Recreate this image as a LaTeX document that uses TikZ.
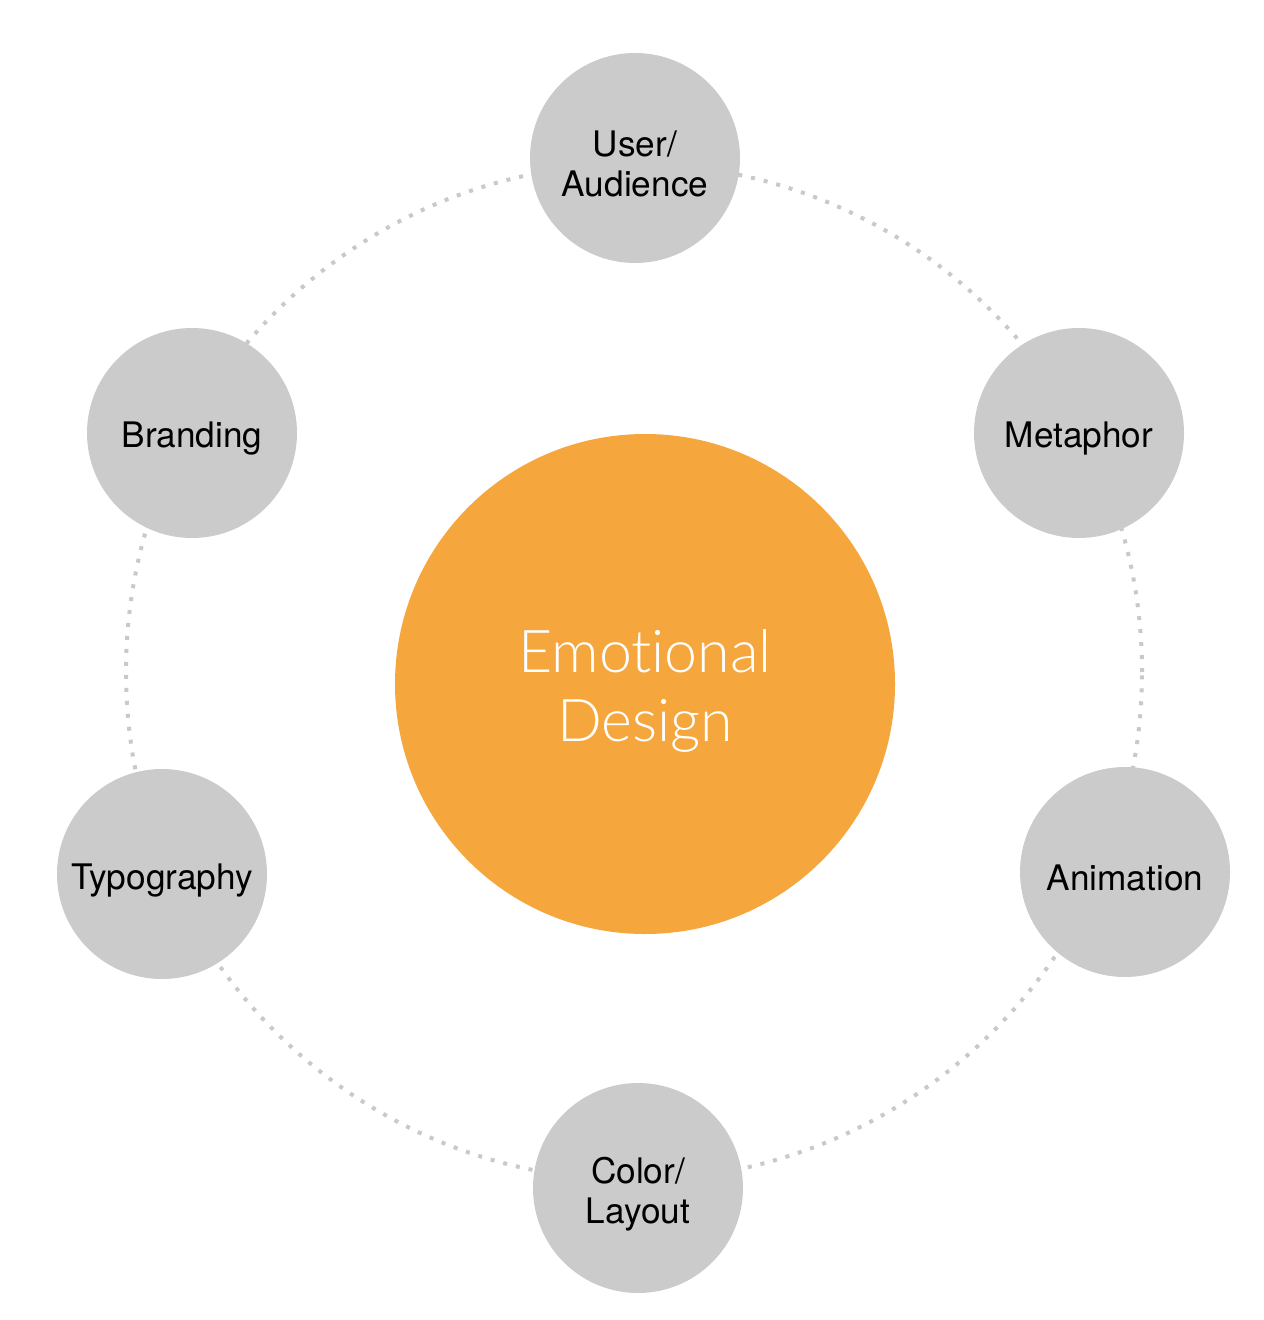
\documentclass[tikz,border=0pt]{standalone}
\usepackage{fontspec}
\setmainfont{TeX Gyre Heros}
\newfontfamily\thinfont[Ligatures=NoCommon]{Lato Light}
\usetikzlibrary{positioning}
\definecolor{ringgray}{HTML}{C9C9C9}
\definecolor{bubblegray}{HTML}{CBCBCB}
\definecolor{emoorange}{HTML}{F5A63D}

\begin{document}
\begin{tikzpicture}[x=0.5pt, y=-0.5pt,
    topic/.style={circle, fill=bubblegray, minimum size=105pt, inner sep=0pt},
    topictext/.style={yshift=-3pt, inner sep=0pt, align=center, text=black,
        font=\fontsize{17.6}{20}\selectfont},
    core/.style={circle, fill=emoorange, minimum size=250pt, inner sep=0pt},
    coretext/.style={yshift=-3.5pt, inner sep=0pt, align=center, text=white,
        font=\thinfont\fontsize{29.5}{34.5}\selectfont},
    ring/.style={circle, draw=ringgray, line width=2pt,
        dash pattern=on 2pt off 4.5pt, minimum size=508pt}]
    \useasboundingbox (0,0) rectangle (1263,1320);
    % dotted orbit behind everything
    \node (orbit) [ring] at (634,672) {};
    \node (core) [core, label={[coretext]center:Emotional\\Design}] at (645,684) {};
    % outer topics
    \node (user) [topic, label={[topictext]center:User/\\Audience}] at (635,158) {};
    \node (meta) [topic, label={[topictext]center:Metaphor}] at (1079,433) {};
    \node (anim) [topic, label={[topictext]center:Animation}] at (1125,872) {};
    \node (color) [topic, label={[topictext]center:Color/\\Layout}] at (638,1188) {};
    \node (typo) [topic, label={[topictext]center:Typography}] at (162,874) {};
    \node (brand) [topic, label={[topictext]center:Branding}] at (192,433) {};
\end{tikzpicture}
\end{document}
